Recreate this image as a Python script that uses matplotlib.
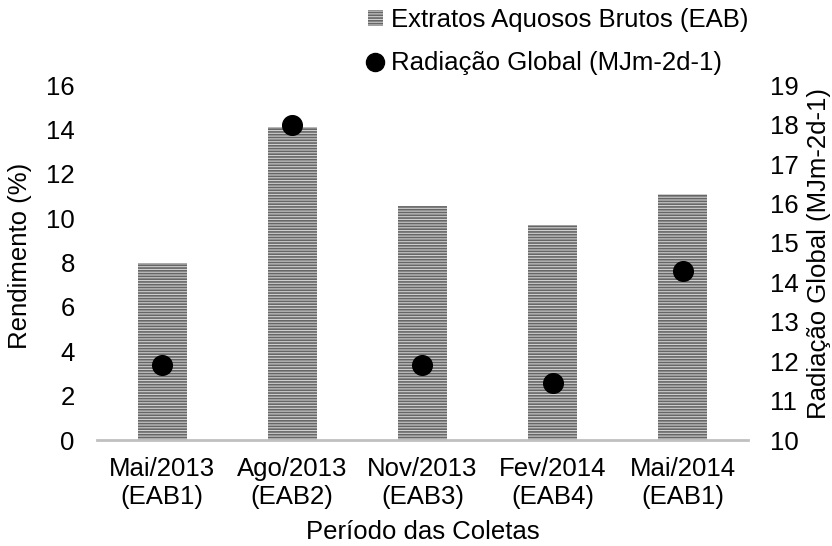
import matplotlib
matplotlib.use("Agg")
import matplotlib.pyplot as plt
from matplotlib.patches import Patch
from matplotlib.lines import Line2D

plt.rcParams["font.family"] = ["Liberation Sans", "DejaVu Sans"]
plt.rcParams["hatch.linewidth"] = 1.2

# Data
periods = ["Mai/2013\n(EAB1)", "Ago/2013\n(EAB2)", "Nov/2013\n(EAB3)",
           "Fev/2014\n(EAB4)", "Mai/2014\n(EAB1)"]
rendimento = [8.0, 14.1, 10.55, 9.7, 11.1]
radiacao = [11.9, 18.0, 11.9, 11.45, 14.3]

fs = 18.5

fig = plt.figure(figsize=(8.32, 5.46), dpi=100)
ax = fig.add_axes([0.1166, 0.194, 0.7824, 0.65])
ax2 = ax.twinx()

x = range(len(periods))
ax.bar(x, rendimento, width=0.375, facecolor="#cfcfcf", edgecolor="#666666",
       hatch="------", linewidth=0, zorder=2)
ax2.scatter(x, radiacao, s=200, color="black", zorder=3)

ax.set_xlim(-0.5, len(periods) - 0.5)
ax.set_ylim(0, 16)
ax.set_yticks(range(0, 17, 2))
ax2.set_ylim(10, 19)
ax2.set_yticks(range(10, 20))

ax.set_xticks(list(x))
ax.set_xticklabels(periods, linespacing=1.2)

for a in (ax, ax2):
    for s in a.spines.values():
        s.set_visible(False)
    a.tick_params(length=0, labelsize=fs, colors="#000000")
ax.tick_params(axis="y", pad=16)
ax2.tick_params(axis="y", pad=16)
ax.tick_params(axis="x", pad=12)
ax.spines["bottom"].set_visible(True)
ax.spines["bottom"].set_color("#c0c0c0")
ax.spines["bottom"].set_linewidth(2)

ax.set_ylabel("Rendimento (%)", fontsize=fs)
ax.yaxis.set_label_coords(-0.1, 0.52)
ax2.set_ylabel("Radiação Global (MJm-2d-1)", fontsize=fs)
ax2.yaxis.set_label_coords(1.091, 0.525)
ax.set_xlabel("Período das Coletas", fontsize=fs, labelpad=8)

handles = [
    Patch(facecolor="#cfcfcf", edgecolor="#666666", hatch="------", linewidth=0),
    Line2D([], [], marker="o", linestyle="none", color="black", markersize=13),
]
labels = ["Extratos Aquosos Brutos (EAB)", "Radiação Global (MJm-2d-1)"]
fig.legend(handles, labels, loc="upper left", bbox_to_anchor=(0.414, 1.028),
           frameon=False, fontsize=fs, handlelength=0.6, handleheight=0.6,
           handletextpad=0.3, labelspacing=0.76)

fig.savefig("out.png", dpi=100)
